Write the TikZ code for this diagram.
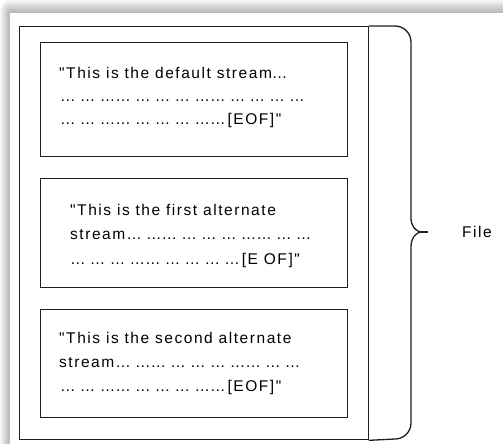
\documentclass[tikz,border=0pt]{standalone}
\usepackage{fontspec}
\setmainfont{Liberation Sans}
\newfontfamily\wordfont[LetterSpace=10]{Liberation Sans}
\newfontfamily\dotfont{Liberation Sans}
\newcommand\ellrun[1]{{\dotfont #1}}

\tikzset{
  edge/.style={draw=black!88, line width=1.3pt},
  streambox/.style={edge, anchor=north west, inner sep=0pt,
    minimum width=307pt},
  filebox/.style={edge, anchor=north west, inner sep=0pt,
    minimum width=349pt, minimum height=413pt},
  txt/.style={anchor=base west, inner sep=0pt, text=black,
    font=\wordfont\fontsize{15.5}{18}\selectfont},
}

\begin{document}
\begin{tikzpicture}[x=1pt, y=-1pt]
  \useasboundingbox (0,0) rectangle (503,444);
  \clip (0,0) rectangle (503,444);

  % soft shadow along the top and left of the sheet
  \foreach \k in {1,...,10}
    \fill[black, opacity=0.03, rounded corners=\k pt]
      ({10-\k},{13-1.3*\k}) rectangle (530,470);
  \fill[white] (10,13) rectangle (530,470);

  % the file and its three streams
  \node[filebox] (file) at (19,26) {};
  \node[streambox, minimum height=114pt] (s1) at (40,42) {};
  \node[streambox, minimum height=109pt] (s2) at (40,178) {};
  \node[streambox, minimum height=108pt] (s3) at (40,309) {};

  % default stream
  \node[txt] (t11) at (59,78)  {"This is the default stream\ellrun{…}};
  \node[txt] (t12) at (60,101) {\ellrun{… … …… … … … …… … … … …}};
  \node[txt] (t13) at (60,124) {\ellrun{… … …… … … … ……}\kern2pt[EOF]"};

  % first alternate stream
  \node[txt] (t21) at (70,215) {"This is the first alternate};
  \node[txt] (t22) at (70,239) {stream\kern1pt\ellrun{… …… … … … …… … …}};
  \node[txt] (t23) at (70,264) {\ellrun{… … … …… … … … …}\kern2pt[E OF]"};

  % second alternate stream
  \node[txt] (t31) at (59,343) {"This is the second alternate};
  \node[txt] (t32) at (59,367) {stream\kern1pt\ellrun{… …… … … … …… … …}};
  \node[txt] (t33) at (60,391) {\ellrun{… … …… … … … ……}\kern2pt[EOF]"};

  % brace grouping everything into the file
  \coordinate (tip) at (428,232);
  \draw[edge, line cap=round]
    (file.north east) -- (395,26) arc[start angle=90, end angle=0, radius=16pt]
    -- (411,218) .. controls (411,226) and (415,230) .. (420,232)
    .. controls (415,234) and (411,238) .. (411,247)
    -- (411,423) arc[start angle=0, end angle=-90, radius=16pt]
    -- (file.south east);
  \draw[edge, line width=1.8pt] (420,232) -- (tip);
  \node[txt] (label) at (462,237) {File};
\end{tikzpicture}
\end{document}
